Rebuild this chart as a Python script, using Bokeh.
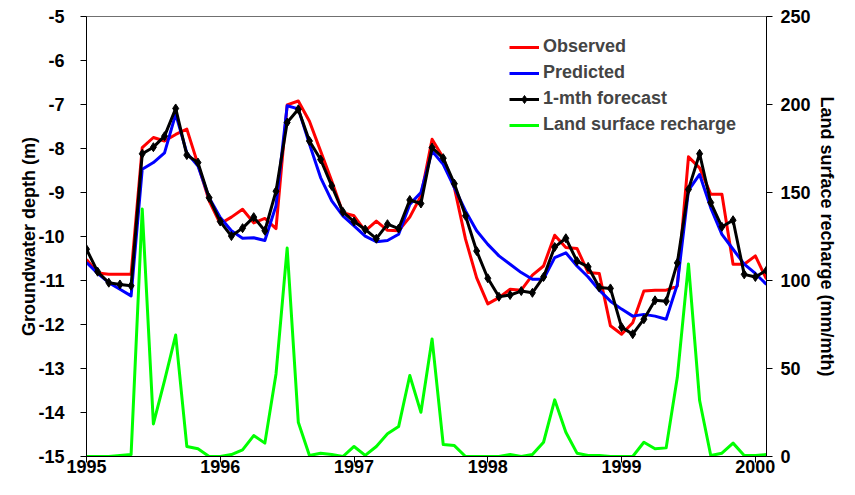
from bokeh.plotting import figure
from bokeh.models import Range1d, LinearAxis, FixedTicker, Legend, LegendItem
from bokeh.embed import file_html
from bokeh.resources import INLINE

# ---- data (monthly, Jan 1995 .. Feb 2000) ----
start_year = 1995
month_index = list(range(62))

observed = [-10.52, -10.83, -10.86, -10.86, -10.86, -7.98, -7.75, -7.83, -7.68, -7.56,
            -8.36, -9.19, -9.71, -9.56, -9.38, -9.69, -9.59, -9.82, -7.01, -6.92,
            -7.38, -8.06, -8.74, -9.46, -9.53, -9.87, -9.65, -9.86, -9.87, -9.56,
            -9.08, -7.79, -8.21, -8.89, -10.06, -10.94, -11.53, -11.39, -11.20, -11.22,
            -10.88, -10.67, -9.97, -10.25, -10.27, -10.82, -10.84, -12.03, -12.22, -11.96,
            -11.24, -11.22, -11.22, -11.13, -8.19, -8.44, -9.04, -9.04, -10.63, -10.63,
            -10.44, -10.97]

predicted = [-10.59, -10.84, -11.05, -11.20, -11.35, -8.47, -8.32, -8.10, -7.22, -8.10,
             -8.40, -9.12, -9.57, -9.87, -10.04, -10.03, -10.09, -9.30, -7.03, -7.10,
             -7.90, -8.66, -9.19, -9.53, -9.76, -9.99, -10.12, -10.09, -9.95, -9.27,
             -9.00, -8.06, -8.36, -8.89, -9.42, -9.87, -10.18, -10.44, -10.63, -10.82,
             -10.97, -10.97, -10.48, -10.37, -10.67, -10.92, -11.22, -11.47, -11.65, -11.81,
             -11.77, -11.81, -11.88, -11.09, -8.95, -8.59, -9.35, -9.95, -10.29, -10.63,
             -10.84, -11.09]

forecast = [-10.29, -10.80, -11.05, -11.09, -11.12, -8.12, -7.97, -7.72, -7.09, -8.15,
            -8.32, -9.12, -9.66, -9.99, -9.81, -9.56, -9.87, -8.97, -7.41, -7.11,
            -7.83, -8.25, -8.85, -9.44, -9.66, -9.84, -10.05, -9.72, -9.82, -9.17,
            -9.25, -7.98, -8.22, -8.80, -9.53, -10.33, -10.95, -11.37, -11.33, -11.24,
            -11.28, -10.92, -10.24, -10.04, -10.56, -10.69, -11.16, -11.18, -12.06, -12.22,
            -11.88, -11.45, -11.47, -10.60, -8.93, -8.12, -9.23, -9.78, -9.63, -10.86,
            -10.92, -10.77]

recharge = [0, 0, 0, 0.6, 1.1, 140.6, 18.5, 43.1, 69.0, 5.7,
            4.4, 0, 0, 1.1, 3.8, 11.9, 7.6, 46.9, 118.4, 19.5,
            0.6, 1.9, 1.1, 0, 5.7, 0.6, 5.7, 12.9, 17.0, 46.0,
            25.1, 66.8, 6.8, 6.2, 0, 0, 0, 0, 1.1, 0,
            1.1, 8.1, 32.2, 13.8, 1.9, 0.6, 0.6, 0, 0, 0,
            8.1, 4.4, 4.9, 45.0, 109.4, 31.8, 0.6, 1.9, 7.6, 0.6,
            0.6, 1.1]

year_ticks = [1995, 1996, 1997, 1998, 1999, 2000]
depth_ticks = [-15, -14, -13, -12, -11, -10, -9, -8, -7, -6, -5]
recharge_ticks = [0, 50, 100, 150, 200, 250]

x = [start_year + m / 12 for m in month_index]

FONT = "Liberation Sans"
FS = "18px"

p = figure(width=839, height=479, output_backend="svg", toolbar_location=None,
           x_range=Range1d(1995, 1995 + 61 / 12), y_range=Range1d(-15, -5),
           min_border_left=86, min_border_right=70, min_border_top=16, min_border_bottom=23)
p.extra_y_ranges = {"rch": Range1d(0, 250)}

p.xgrid.visible = False
p.ygrid.visible = False
p.outline_line_color = "#707070"
p.outline_line_width = 1
p.background_fill_color = "white"
p.border_fill_color = "white"

r_obs = p.line(x, observed, line_color="#FF0000", line_width=3, line_join="round")
r_pred = p.line(x, predicted, line_color="#0000FF", line_width=3, line_join="round")
r_fc = p.line(x, forecast, line_color="black", line_width=3, line_join="round")
r_fcm = p.scatter(x, forecast, marker="diamond", size=9, fill_color="black", line_color="black")
r_rch = p.line(x, recharge, line_color="#00FF00", line_width=3, line_join="round",
               y_range_name="rch")

right = LinearAxis(y_range_name="rch", axis_label="Land surface recharge (mm/mth)")
p.add_layout(right, "right")

for ax in [p.xaxis[0], p.yaxis[0], right]:
    ax.axis_line_color = "black"
    ax.axis_line_width = 1
    ax.major_tick_line_color = "black"
    ax.major_tick_in = 0
    ax.major_tick_out = 6
    ax.minor_tick_line_color = None
    ax.major_label_text_font = FONT
    ax.major_label_text_font_size = FS
    ax.major_label_text_font_style = "bold"
    ax.major_label_text_color = "black"
    ax.axis_label_text_font = FONT
    ax.axis_label_text_font_size = FS
    ax.axis_label_text_font_style = "bold"
    ax.axis_label_text_color = "black"

p.xaxis[0].ticker = FixedTicker(ticks=year_ticks)
p.xaxis[0].major_label_standoff = -3
p.yaxis[0].ticker = FixedTicker(ticks=depth_ticks)
p.yaxis[0].major_label_overrides = {t: str(t) for t in depth_ticks}
p.yaxis[0].axis_label = "Groundwater depth (m)"
p.yaxis[0].major_label_standoff = 16
p.yaxis[0].axis_label_standoff = -4
right.ticker = FixedTicker(ticks=recharge_ticks)
right.major_label_standoff = 8
right.axis_label_standoff = 3

legend = Legend(items=[
    LegendItem(label="Observed", renderers=[r_obs]),
    LegendItem(label="Predicted", renderers=[r_pred]),
    LegendItem(label="1-mth forecast", renderers=[r_fc, r_fcm]),
    LegendItem(label="Land surface recharge", renderers=[r_rch]),
], location=(423, 321))
legend.padding = 0
legend.margin = 0
legend.border_line_alpha = 0
legend.background_fill_alpha = 0
legend.glyph_width = 30
legend.glyph_height = 20
legend.label_height = 20
legend.spacing = 5
legend.label_standoff = 4
legend.label_text_font = FONT
legend.label_text_font_size = FS
legend.label_text_font_style = "bold"
p.add_layout(legend, "center")

open("out.html", "w").write(file_html(p, INLINE))
